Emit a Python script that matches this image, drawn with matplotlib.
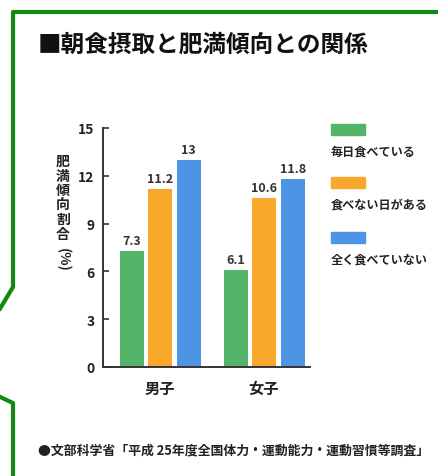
import matplotlib.pyplot as plt
import numpy as np
from matplotlib.lines import Line2D
from matplotlib.patches import Rectangle

plt.rcParams['font.family'] = ['Noto Sans CJK JP', 'DejaVu Sans']

W, H = 438, 477

title = '■朝食摂取と肥満傾向との関係'
source = '●文部科学省「平成 25年度全国体力・運動能力・運動習慣等調査」'
groups = ['男子', '女子']
series = ['毎日食べている', '食べない日がある', '全く食べていない']
values = [
    [7.3, 6.1],
    [11.2, 10.6],
    [13, 11.8],
]
colors = ['#52b466', '#f8a82a', '#4b95e4']
yticks = [0, 3, 6, 9, 12, 15]
ylabel = '肥満傾向割合'


def px(x, y):
    # pixel position (from top-left) -> figure fraction
    return x / W, 1 - y / H


fig = plt.figure(figsize=(W / 100, H / 100), dpi=100)
fig.patch.set_facecolor('white')

# green frame
frame_kw = dict(color='#118a11', linewidth=3.0, solid_capstyle='butt',
                solid_joinstyle='round', transform=fig.transFigure)
pts = [(440, 13), (13, 13), (13, 288), (-2, 313)]
fig.add_artist(Line2D([px(*p)[0] for p in pts], [px(*p)[1] for p in pts], **frame_kw))
pts = [(-2, 397), (13, 404), (13, 480)]
fig.add_artist(Line2D([px(*p)[0] for p in pts], [px(*p)[1] for p in pts], **frame_kw))

# axes
left, top, right, bottom = 103, 129, 310, 368
ax = fig.add_axes([left / W, 1 - bottom / H, (right - left) / W, (bottom - top) / H])
ax.set_facecolor('none')

x = np.arange(len(groups))
width = 0.23
offsets = [-0.27, 0, 0.275]
for i, vals in enumerate(values):
    bars = ax.bar(x + offsets[i], vals, width, color=colors[i], zorder=2)
    for b, v in zip(bars, vals):
        ax.text(b.get_x() + b.get_width() / 2, v + 0.25, f'{v:g}', ha='center', va='bottom',
                fontsize=9, fontweight='bold', color='#333333')

ax.set_xlim(-0.548, 1.442)
ax.set_ylim(0, 15)
ax.set_yticks(yticks)
ax.set_xticks(x)
ax.set_xticklabels(groups, fontsize=11, fontweight='bold', color='#222222')
ax.tick_params(axis='x', length=0, pad=9)
ax.tick_params(axis='y', direction='in', length=4, width=1.2, color='#333333', pad=6,
               labelsize=10, labelcolor='#222222')
for lab in ax.get_yticklabels():
    lab.set_fontweight('bold')
for s in ['top', 'right']:
    ax.spines[s].set_visible(False)
for s in ['left', 'bottom']:
    ax.spines[s].set_color('#333333')
    ax.spines[s].set_linewidth(1.4)

# vertical y label
fig.text(*px(63, 155), '\n'.join(ylabel), ha='center', va='top', fontsize=10,
         fontweight='bold', color='#222222', linespacing=1.05)
fig.text(*px(63, 260), '(%)', ha='center', va='center', rotation=-90, fontsize=10,
         fontweight='bold', color='#222222')

# legend
legend_y = [125, 178, 233]
for i, name in enumerate(series):
    x0, y0 = px(331, legend_y[i] + 11)
    fig.add_artist(Rectangle((x0, y0), 34 / W, 11 / H, color=colors[i],
                             transform=fig.transFigure))
    fig.text(*px(331, legend_y[i] + 27), name, ha='left', va='center', fontsize=8.7,
             fontweight='bold', color='#222222')

fig.text(*px(38, 45), title, ha='left', va='center', fontsize=17, fontweight='bold',
         color='#111111')
fig.text(*px(38, 450), source, ha='left', va='center', fontsize=9.3, fontweight='bold',
         color='#222222')

fig.savefig('out.png', dpi=100)
